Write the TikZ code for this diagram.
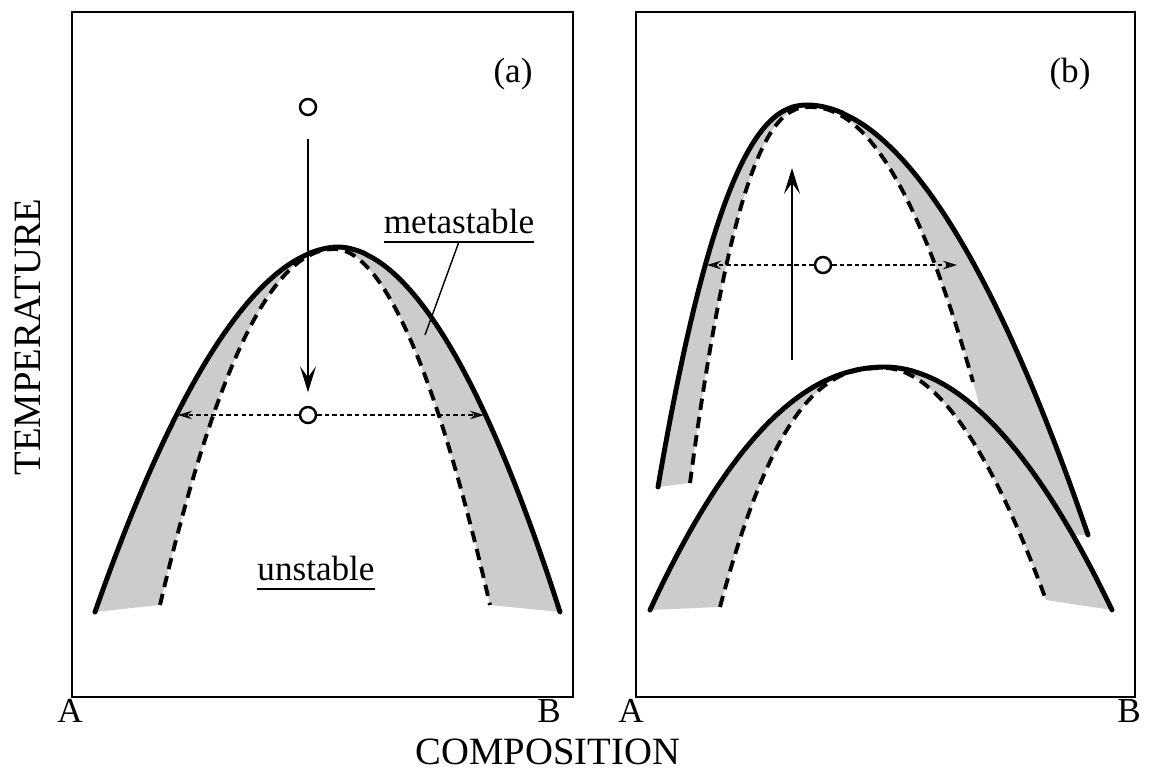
\documentclass[tikz,border=0pt]{standalone}
\usepackage{fontspec}
\setmainfont{Liberation Serif}
\usetikzlibrary{arrows.meta}
\begin{document}
\begin{tikzpicture}[x=0.02cm,y=-0.02cm,samples=60,
    frame/.style={line width=1.1pt},
    binodal/.style={line width=2.8pt, line cap=round},
    spinodal/.style={line width=2.2pt, dash pattern=on 6.5pt off 4pt},
    band/.style={fill=black!20},
    move/.style={line width=1.4pt, -{Stealth[length=0.52cm, width=0.32cm, inset=0.22cm]}},
    tie/.style={line width=0.9pt, dash pattern=on 2.5pt off 1.8pt, -{Stealth[open, length=0.28cm, width=0.17cm]}},
    state/.style={circle, draw, line width=1.4pt, minimum size=0.32cm, inner sep=0pt},
    lbl/.style={font=\fontsize{20}{24}\selectfont},
    axislbl/.style={font=\fontsize{22}{26}\selectfont, inner sep=0pt},
    region/.style={lbl, inner xsep=0pt, inner ysep=4.5pt, anchor=base}]
  \useasboundingbox (0,0) rectangle (1151,772);

  % panel (a)
  \fill[band] (95,612) -- plot[domain=95:337.5] (\x,{247+365*((338-\x)/243)^1.9})
    -- plot[domain=338.5:560] (\x,{247+365*((\x-338)/222)^1.9})
    -- (490,605) -- plot[domain=490:335.5] (\x,{249+356*((\x-335)/155)^1.9})
    -- plot[domain=334.5:160] (\x,{249+356*((335-\x)/175)^2.1}) -- cycle;
  \draw[spinodal] plot[domain=160:334.5] (\x,{249+356*((335-\x)/175)^2.1})
    -- plot[domain=335.5:490] (\x,{249+356*((\x-335)/155)^1.9});
  \draw[binodal] plot[domain=95:337.5] (\x,{247+365*((338-\x)/243)^1.9})
    -- plot[domain=338.5:560] (\x,{247+365*((\x-338)/222)^1.9});
  \draw[frame] (72,12) rectangle (573,697);

  \node[state] (a1) at (308,107) {};
  \node[state] (a2) at (308,415) {};
  \coordinate (a2l) at (178,415);
  \coordinate (a2r) at (484,415);
  \draw[move, shorten <=0.45cm, shorten >=0.27cm] (a1) -- (a2);
  \draw[tie] (a2) -- (a2l);
  \draw[tie] (a2) -- (a2r);

  \node[lbl] (taga) at (513,74) {(a)};
  \node[region] (meta) at (459,233) {metastable};
  \coordinate (metatip) at (425,335);
  \draw[line width=1.1pt] (meta.south west) -- (meta.south east);
  \draw[line width=0.8pt] (meta.south) -- (metatip);
  \node[region] (unst) at (316,580) {unstable};
  \draw[line width=1.1pt] (unst.south west) -- (unst.south east);

  % panel (b): upper band first, lower dome painted over it
  \fill[band] (658,487) -- plot[domain=658:807.5] (\x,{105+382*((808-\x)/150)^2.3})
    -- plot[domain=808.5:1088] (\x,{105+430*((\x-808)/280)^1.9})
    -- (1011,534) -- plot[domain=1011:810.5] (\x,{107+275*((\x-810)/163)^2.1})
    -- plot[domain=809.5:690] (\x,{107+376*((810-\x)/120)^2.4}) -- cycle;
  \fill[white] (720,607) -- plot[domain=720:884.5] (\x,{368+239*((885-\x)/165)^2.6})
    -- plot[domain=885.5:1046] (\x,{368+232*((\x-885)/161)^1.9}) -- cycle;
  \fill[band] (650,610) -- plot[domain=650:884.5] (\x,{367+243*((885-\x)/235)^2.1})
    -- plot[domain=885.5:1112] (\x,{367+243*((\x-885)/227)^1.95})
    -- (1046,600) -- plot[domain=1046:885.5] (\x,{368+232*((\x-885)/161)^1.9})
    -- plot[domain=884.5:720] (\x,{368+239*((885-\x)/165)^2.6}) -- cycle;
  \draw[spinodal] plot[domain=720:884.5] (\x,{368+239*((885-\x)/165)^2.6})
    -- plot[domain=885.5:1046] (\x,{368+232*((\x-885)/161)^1.9});
  \draw[spinodal] plot[domain=690:809.5] (\x,{107+376*((810-\x)/120)^2.4})
    -- plot[domain=810.5:973] (\x,{107+275*((\x-810)/163)^2.1});
  \draw[binodal] plot[domain=650:884.5] (\x,{367+243*((885-\x)/235)^2.1})
    -- plot[domain=885.5:1112] (\x,{367+243*((\x-885)/227)^1.95});
  \draw[binodal] plot[domain=658:807.5] (\x,{105+382*((808-\x)/150)^2.3})
    -- plot[domain=808.5:1088] (\x,{105+430*((\x-808)/280)^1.9});
  \draw[frame] (636,12) rectangle (1135,697);

  \coordinate (b0) at (792,360);
  \coordinate (b1) at (792,168);
  \draw[move] (b0) -- (b1);
  \node[state] (b2) at (823,265) {};
  \coordinate (b2l) at (707,265);
  \coordinate (b2r) at (957,265);
  \draw[tie] (b2) -- (b2l);
  \draw[tie] (b2) -- (b2r);
  \node[lbl] (tagb) at (1070,74) {(b)};

  % axes
  \node[lbl] (compa) at (70,711) {A};
  \node[lbl] (compb) at (549,711) {B};
  \node[lbl] (compa2) at (631,711) {A};
  \node[lbl] (compb2) at (1129,711) {B};
  \node[axislbl, anchor=base] (comp) at (548,764) {COMPOSITION};
  \node[axislbl, rotate=90] (temp) at (28,337) {TEMPERATURE};
\end{tikzpicture}
\end{document}
